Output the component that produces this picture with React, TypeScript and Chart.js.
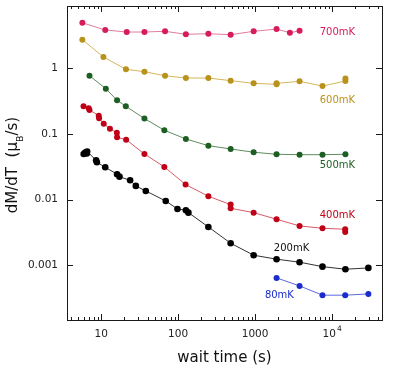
import { useEffect, useRef } from 'react';
import { Chart, registerables } from 'chart.js';
Chart.register(...registerables);

const FONT = '"DejaVu Sans", sans-serif';

// wait time (s) and dM/dT (muB/s) per temperature
const t700 = [5.7, 11.3, 21.5, 36.5, 67.6, 126, 247, 481, 957, 1900, 2830, 3780];
const v700 = [4.94, 3.83, 3.57, 3.57, 3.66, 3.3, 3.36, 3.25, 3.66, 3.96, 3.48, 3.74];

const t600 = [5.7, 10.7, 21, 36.5, 67.6, 126, 247, 481, 957, 1900, 1900, 3780, 7500, 14900, 14900];
const v600 = [2.72, 1.49, 0.966, 0.887, 0.771, 0.711, 0.711, 0.648, 0.591, 0.57, 0.59, 0.634, 0.538, 0.64, 0.70];

const t500 = [7.05, 11.5, 16.1, 20.9, 36.5, 66.2, 126, 247, 481, 957, 1900, 3780, 7500, 14900];
const v500 = [0.771, 0.489, 0.326, 0.264, 0.172, 0.114, 0.0839, 0.0664, 0.0591, 0.0527, 0.0491, 0.0484, 0.0484, 0.0491];

const t400 = [5.9, 6.9, 7.05, 9.3, 9.4, 10.8, 13.0, 16.0, 16.1, 21.1, 36.5, 66.2, 125, 247, 481, 481, 957, 1900, 3780, 7500, 14800, 14800];
const v400 = [0.264, 0.246, 0.232, 0.19, 0.173, 0.1435, 0.12, 0.1045, 0.0891, 0.0819, 0.0496, 0.0315, 0.017, 0.01127, 0.0084, 0.0074, 0.00634, 0.00503, 0.00398, 0.00367, 0.00354, 0.00322];

const t200 = [5.93, 6.2, 6.5, 6.58, 8.6, 8.8, 11.3, 16.1, 17.3, 23.8, 28.2, 38, 69, 98, 126, 136, 247, 481, 957, 1900, 3780, 7500, 14900, 29600];
const v200 = [0.0496, 0.0523, 0.0505, 0.0542, 0.0398, 0.0371, 0.0311, 0.0244, 0.0224, 0.0197, 0.0162, 0.01356, 0.00955, 0.00722, 0.0069, 0.00634, 0.00384, 0.00217, 0.001425, 0.00124, 0.001115, 0.000955, 0.000872, 0.000913];

const t80 = [1900, 3780, 7500, 14800, 29600];
const v80 = [0.000643, 0.000486, 0.000351, 0.000351, 0.000367];

const seriesNames = ['700mK', '600mK', '500mK', '400mK', '200mK', '80mK'];
const seriesTimes = [t700, t600, t500, t400, t200, t80];
const seriesValues = [v700, v600, v500, v400, v200, v80];
const pointColors = ['#d81b5a', '#b8921a', '#1d5e22', '#c00016', '#000000', '#1a2ccc'];
const lineColors = ['#e27aa0', '#d4b65a', '#5f8d60', '#d65a66', '#333333', '#5a68dc'];
const pointRadii = [3, 3, 3, 3, 3.3, 3];

// label anchor positions (data coordinates)
const labelTimes = [6900, 6900, 6900, 6900, 1750, 1340];
const labelValues = [3.57, 0.329, 0.0337, 0.00585, 0.00178, 0.000343];

const xTickValues = [10, 100, 1000, 10000];
const xTickLabels = ['10', '100', '1000', '10^4'];
const yTickValues = [1, 0.1, 0.01, 0.001];
const yTickLabels = ['1', '0.1', '0.01', '0.001'];

const X_MIN = 3.6;
const X_MAX = 44500;
const Y_MIN = 0.000147;
const Y_MAX = 8.89;

const framePlugin = {
  id: 'frameTicks',
  afterDraw(chart: any) {
    const ctx = chart.ctx as CanvasRenderingContext2D;
    const { left, right, top, bottom } = chart.chartArea;
    const xs = chart.scales.x;
    const ys = chart.scales.y;
    ctx.save();
    ctx.strokeStyle = '#1a1a1a';
    ctx.lineWidth = 1;
    ctx.strokeRect(Math.round(left) + 0.5, Math.round(top) + 0.5, Math.round(right - left), Math.round(bottom - top));

    // x ticks (major + minor), inward on top and bottom
    ctx.beginPath();
    for (let e = 0; e <= 5; e++) {
      for (let k = 1; k <= 9; k++) {
        const v = k * Math.pow(10, e);
        if (v < X_MIN || v > X_MAX) continue;
        const px = Math.round(xs.getPixelForValue(v)) + 0.5;
        const len = k === 1 ? 6 : 3;
        ctx.moveTo(px, bottom);
        ctx.lineTo(px, bottom - len);
        ctx.moveTo(px, top);
        ctx.lineTo(px, top + len);
      }
    }
    // y major ticks, inward on left and right
    for (const v of yTickValues) {
      const py = Math.round(ys.getPixelForValue(v)) + 0.5;
      ctx.moveTo(left, py);
      ctx.lineTo(left + 6, py);
      ctx.moveTo(right, py);
      ctx.lineTo(right - 6, py);
    }
    ctx.stroke();

    // tick labels
    ctx.fillStyle = '#222';
    ctx.font = `10.5px ${FONT}`;
    ctx.textBaseline = 'middle';
    ctx.textAlign = 'right';
    yTickValues.forEach((v, i) => {
      ctx.fillText(yTickLabels[i], left - 9, ys.getPixelForValue(v));
    });
    xTickValues.forEach((v, i) => {
      const lab = xTickLabels[i];
      const px = xs.getPixelForValue(v);
      const py = bottom + 14;
      if (lab.includes('^')) {
        const [base, exp] = lab.split('^');
        ctx.font = `10.5px ${FONT}`;
        const wb = ctx.measureText(base).width;
        ctx.font = `7.5px ${FONT}`;
        const we = ctx.measureText(exp).width;
        const start = px - (wb + we + 1) / 2;
        ctx.textAlign = 'left';
        ctx.font = `10.5px ${FONT}`;
        ctx.fillText(base, start, py);
        ctx.font = `7.5px ${FONT}`;
        ctx.fillText(exp, start + wb + 1, py - 4.5);
      } else {
        ctx.textAlign = 'center';
        ctx.font = `10.5px ${FONT}`;
        ctx.fillText(lab, px, py);
      }
    });

    // series labels
    ctx.font = `10px ${FONT}`;
    ctx.textAlign = 'left';
    ctx.textBaseline = 'middle';
    seriesNames.forEach((n, i) => {
      ctx.fillStyle = pointColors[i] === '#000000' ? '#111' : pointColors[i];
      ctx.fillText(n, xs.getPixelForValue(labelTimes[i]), ys.getPixelForValue(labelValues[i]));
    });

    // axis titles
    ctx.fillStyle = '#111';
    ctx.font = `15px ${FONT}`;
    ctx.textAlign = 'center';
    ctx.textBaseline = 'alphabetic';
    ctx.fillText('wait time (s)', (left + right) / 2, 362);

    ctx.translate(17, 165);
    ctx.rotate(-Math.PI / 2);
    const p1 = 'dM/dT  (\u03bc';
    const p2 = 'B';
    const p3 = '/s)';
    ctx.font = `15px ${FONT}`;
    const w1 = ctx.measureText(p1).width;
    const w3 = ctx.measureText(p3).width;
    ctx.font = `9.5px ${FONT}`;
    const w2 = ctx.measureText(p2).width;
    let x0 = -(w1 + w2 + w3) / 2;
    ctx.textAlign = 'left';
    ctx.font = `15px ${FONT}`;
    ctx.fillText(p1, x0, 0);
    x0 += w1;
    ctx.font = `9.5px ${FONT}`;
    ctx.fillText(p2, x0, 6);
    x0 += w2;
    ctx.font = `15px ${FONT}`;
    ctx.fillText(p3, x0, 0);
    ctx.restore();
  },
};

export default function App() {
  const ref = useRef<HTMLCanvasElement>(null);
  useEffect(() => {
    const datasets = seriesNames.map((n, i) => ({
      label: n,
      data: seriesTimes[i].map((t, j) => ({ x: t, y: seriesValues[i][j] })),
      borderColor: lineColors[i],
      borderWidth: 1,
      backgroundColor: pointColors[i],
      pointBackgroundColor: pointColors[i],
      pointBorderColor: pointColors[i],
      pointBorderWidth: 0,
      pointRadius: pointRadii[i],
      tension: 0,
      fill: false,
    }));
    const chart = new Chart(ref.current!, {
      type: 'line',
      data: { datasets },
      options: {
        animation: false,
        responsive: true,
        maintainAspectRatio: false,
        layout: { padding: { left: 67, right: 11, top: 6, bottom: 51 } },
        plugins: { legend: { display: false }, tooltip: { enabled: false } },
        scales: {
          x: { type: 'logarithmic', min: X_MIN, max: X_MAX, display: false },
          y: { type: 'logarithmic', min: Y_MIN, max: Y_MAX, display: false },
        },
      },
      plugins: [framePlugin],
    });
    return () => chart.destroy();
  }, []);
  return (
    <div style={{ position: 'fixed', left: 0, top: 0, width: 393, height: 371, background: '#fff' }}>
      <canvas ref={ref} />
    </div>
  );
}
